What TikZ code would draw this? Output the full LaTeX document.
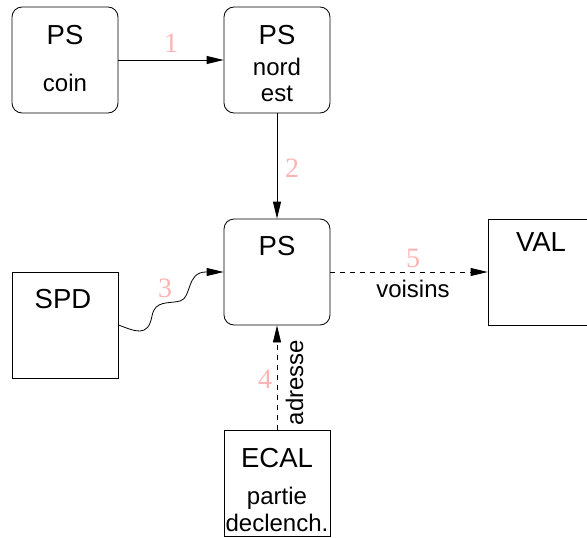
\documentclass[tikz,border=0pt]{standalone}
\usepackage{fontspec}
\setmainfont{Liberation Serif}
\setsansfont{Liberation Sans}
\usepackage{xcolor}
\usetikzlibrary{arrows.meta, positioning}
\definecolor{numc}{RGB}{255,180,180}

\begin{document}
\begin{tikzpicture}[x=1pt, y=-1pt,
    blk/.style={draw, minimum width=106pt, minimum height=106pt, inner sep=0pt, line width=0.8pt},
    rblk/.style={blk, rounded corners=10pt},
    boxtitle/.style={font=\sffamily\fontsize{27.5}{30}\selectfont, anchor=base, inner sep=0pt},
    boxsub/.style={font=\sffamily\fontsize{24}{26}\selectfont, anchor=base, inner sep=0pt},
    num/.style={font=\fontsize{28}{30}\selectfont, text=numc, inner sep=0pt},
    lbl/.style={font=\sffamily\fontsize{24}{26}\selectfont, inner sep=0pt, anchor=base},
    arr/.style={-{Triangle[length=17pt, width=8pt]}, line width=0.8pt},
    dsh/.style={arr, dash pattern=on 5pt off 5pt}]
  \useasboundingbox (0,0) rectangle (587,538);
  % boxes
  \node[rblk] (coin) at (65,60) {};
  \node[rblk] (nordest) at (277,60) {};
  \node[rblk] (ps) at (277,272) {};
  \node[blk] (val) at (541,272) {};
  \node[blk] (spd) at (65,325) {};
  \node[blk] (ecal) at (277,483) {};
  % box texts
  \node[boxtitle] (coinT) at ([yshift=-38pt]coin.north) {PS};
  \node[boxsub] (coinS) at ([yshift=-85pt]coin.north) {coin};
  \node[boxtitle] (nordestT) at ([yshift=-38pt]nordest.north) {PS};
  \node[boxsub] (nordestS) at ([yshift=-69pt]nordest.north) {nord};
  \node[boxsub] (nordestS2) at ([yshift=-95pt]nordest.north) {est};
  \node[boxtitle] (psT) at ([yshift=-37pt]ps.north) {PS};
  \node[boxtitle] (valT) at ([yshift=-33pt]val.north) {VAL};
  \node[boxtitle] (spdT) at ([xshift=-2pt, yshift=-37pt]spd.north) {SPD};
  \node[boxtitle] (ecalT) at ([yshift=-38pt]ecal.north) {ECAL};
  \node[boxsub] (ecalS) at ([yshift=-75pt]ecal.north) {partie};
  \node[boxsub] (ecalS2) at ([yshift=-102pt]ecal.north) {declench.};
  % connectors
  \draw[arr] (coin) -- node[num, yshift=17pt] (n1) {1} (nordest);
  \draw[arr] (nordest) -- node[num, xshift=15pt, yshift=-2pt] (n2) {2} (ps);
  \draw[arr] (spd.east) .. controls (135,331) and (148,338) .. (152,316)
    .. controls (155,300) and (168,304) .. (180,301)
    .. controls (192,298) and (186,272) .. (206,272) -- (ps.west);
  \node[num] (n3) at (165,288) {3};
  \draw[dsh] (ecal) -- node[num, xshift=-12pt, yshift=-2pt] (n4) {4} coordinate[midway] (m4) (ps);
  \node[lbl, rotate=90, anchor=base] (adr) at ([xshift=26pt, yshift=-5pt]m4) {adresse};
  \draw[dsh] (ps) -- node[num, xshift=4pt, yshift=14pt] (n5) {5}
    node[lbl, xshift=4pt, yshift=-25pt] (vois) {voisins} (val);
\end{tikzpicture}
\end{document}
